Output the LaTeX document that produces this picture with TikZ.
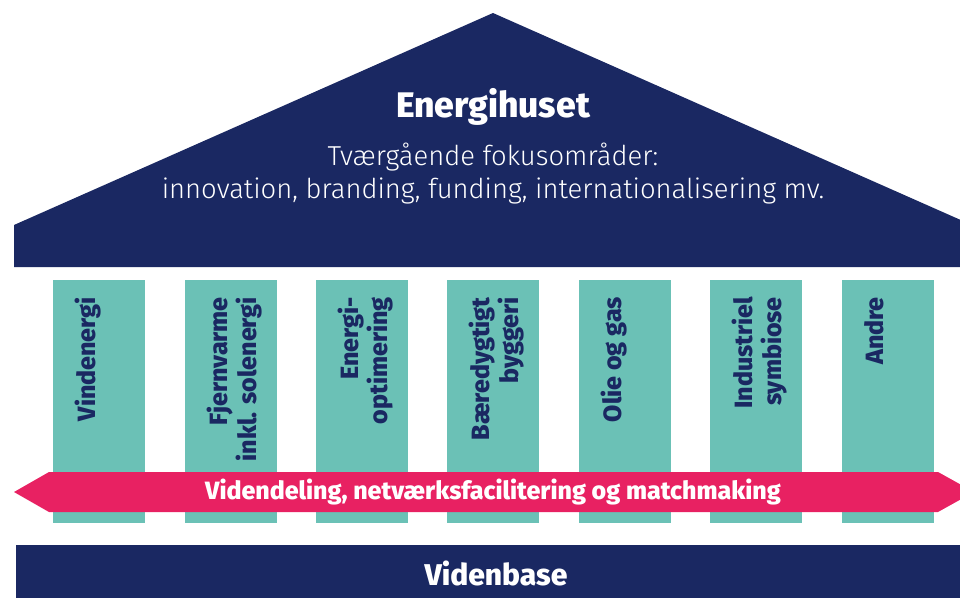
\documentclass[tikz,border=0pt]{standalone}
\usepackage{fontspec}
\setmainfont{Fira Sans}
\newfontfamily\lightfont{Fira Sans Light}
\newfontfamily\heavyfont{Fira Sans ExtraBold}
\definecolor{navy}{HTML}{1A2862}
\definecolor{teal}{HTML}{6BC1B6}
\definecolor{pinkband}{HTML}{E82162}
\begin{document}
\begin{tikzpicture}[x=1pt,y=-1pt,
  pillar/.style={fill=teal},
  pillartext/.style={rotate=90,anchor=north east,align=right,inner sep=0pt,
    text=navy,font=\heavyfont\fontsize{25}{28.5}\selectfont},
  hdr/.style={text=white,inner sep=0pt}]
\useasboundingbox (0,0) rectangle (960,597);
\clip (0,0) rectangle (960,597);
% roof
\fill[navy] (14,267) -- (14,225) -- (493,13) -- (972,225) -- (972,267) -- cycle;
\node[hdr,font=\heavyfont\fontsize{35.5}{35.5}\selectfont,anchor=base] (title) at (493,117) {Energihuset};
\node[hdr,font=\lightfont\fontsize{27.4}{33}\selectfont,align=center,anchor=base] (sub) at (493,198)
  {Tværgående fokusområder:\\innovation, branding, funding, internationalisering mv.};
% pillars
\foreach \x/\n in {53/p1,185/p2,316/p3,447/p4,579/p5,710/p6,842/p7}{
  \fill[pillar] (\x,280) rectangle ++(92,243);
  \coordinate (\n) at (\x+22,297);
}
\node[pillartext] (t1) at (p1) {Vindenergi};
\node[pillartext] (t2) at (p2) {Fjernvarme\\inkl. solenergi};
\node[pillartext] (t3) at (p3) {Energi-\\optimering};
\node[pillartext] (t4) at (p4) {Bæredygtigt\\byggeri};
\node[pillartext] (t5) at (p5) {Olie og gas};
\node[pillartext] (t6) at (p6) {Industriel\\symbiose};
\node[pillartext] (t7) at (p7) {Andre};
% band
\fill[pinkband] (49,472) -- (938,472) -- (974,492) -- (938,512) -- (49,512) -- (14,492) -- cycle;
\node[hdr,font=\heavyfont\fontsize{25}{25}\selectfont,anchor=base] (band) at (493,499)
  {Videndeling, netværksfacilitering og matchmaking};
% base
\fill[navy] (16,545) rectangle (972,600);
\node[hdr,font=\heavyfont\fontsize{30}{30}\selectfont,anchor=base] (base) at (496,585) {Videnbase};
\end{tikzpicture}
\end{document}
